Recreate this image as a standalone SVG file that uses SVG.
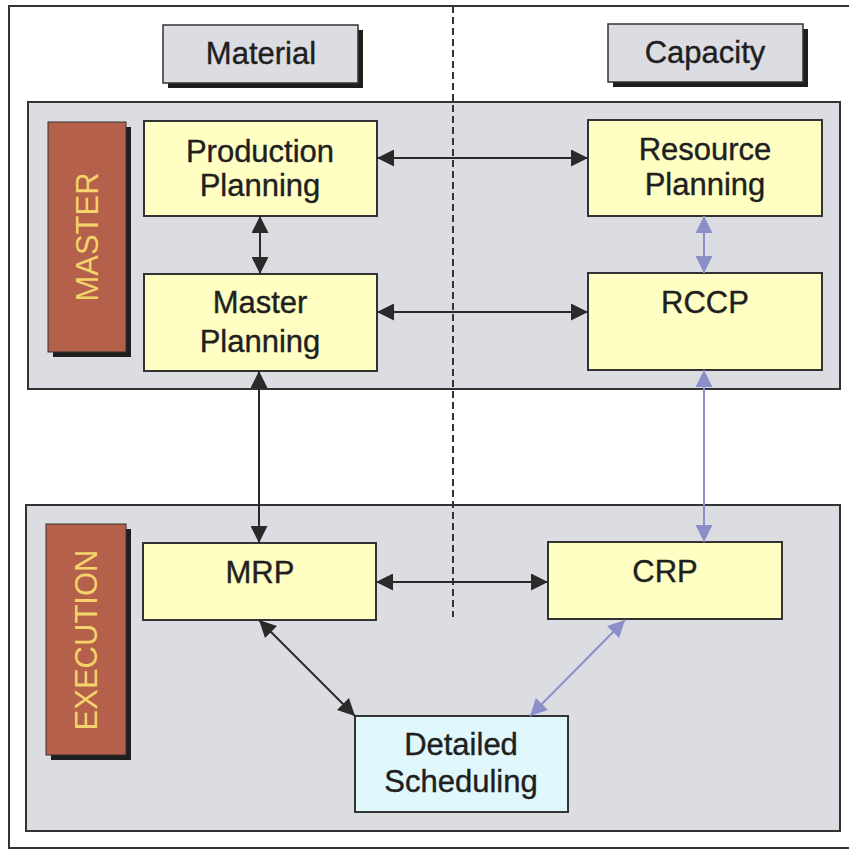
<svg xmlns="http://www.w3.org/2000/svg" width="849" height="851" viewBox="0 0 849 851">
  <style>
    .panel { fill: #dcdde3; stroke: #333; stroke-width: 2; }
    .shadow { fill: #1e1e1e; }
    .head { fill: #dcdde2; stroke: #333; stroke-width: 1.5; }
    .tag { fill: #b5604b; stroke: #333; stroke-width: 1; }
    .node { fill: #ffffc4; stroke: #333; stroke-width: 2; }
    .sched { fill: #e0f7fb; stroke: #333; stroke-width: 2; }
    .t { font-family: "Liberation Sans", Arial, sans-serif; font-size: 31px; fill: #1f1f1f; stroke: #1f1f1f; stroke-width: 0.4; text-anchor: middle; }
    .tagt { font-family: "Liberation Sans", Arial, sans-serif; font-size: 31px; fill: #f3d36a; text-anchor: middle; }
    .dark { stroke: #2a2a2a; stroke-width: 2; fill: none; marker-start: url(#ah); marker-end: url(#ah); }
    .blue { stroke: #8a8fc8; stroke-width: 2; fill: none; marker-start: url(#ab); marker-end: url(#ab); }
  </style>
  <defs>
    <marker id="ah" viewBox="0 0 10 10" refX="10" refY="5" markerUnits="userSpaceOnUse" markerWidth="20" markerHeight="17" orient="auto-start-reverse">
      <path d="M0,0 L10,5 L0,10 z" fill="#2a2a2a"/>
    </marker>
    <marker id="ab" viewBox="0 0 10 10" refX="10" refY="5" markerUnits="userSpaceOnUse" markerWidth="20" markerHeight="17" orient="auto-start-reverse">
      <path d="M0,0 L10,5 L0,10 z" fill="#8a8fc8"/>
    </marker>
  </defs>

  <!-- page frame -->
  <rect x="0" y="0" width="849" height="851" fill="#ffffff"/>
  <rect x="9" y="6" width="850" height="842" fill="none" stroke="#333" stroke-width="2"/>

  <!-- column headers -->
  <g id="material">
    <rect class="shadow" x="168" y="30" width="195" height="58"/>
    <rect class="head" x="163" y="25" width="195" height="58"/>
    <text class="t" x="261" y="64">Material</text>
  </g>
  <g id="capacity">
    <rect class="shadow" x="613" y="29" width="195" height="58"/>
    <rect class="head" x="608" y="24" width="195" height="58"/>
    <text class="t" x="705" y="63">Capacity</text>
  </g>

  <!-- level panels -->
  <g id="master-panel">
    <rect class="panel" x="28" y="102" width="812" height="287"/>
  </g>
  <g id="execution-panel">
    <rect class="panel" x="26" y="505" width="814" height="326"/>
  </g>

  <!-- divider between material and capacity sides -->
  <line x1="453" y1="6" x2="453" y2="617" stroke="#333" stroke-width="2" stroke-dasharray="7,4"/>

  <!-- level tags -->
  <g id="master-tag">
    <rect class="shadow" x="53" y="127" width="78" height="230"/>
    <rect class="tag" x="48" y="122" width="78" height="230"/>
    <text class="tagt" transform="translate(98,237) rotate(-90)">MASTER</text>
  </g>
  <g id="execution-tag">
    <rect class="shadow" x="51" y="529" width="80" height="231"/>
    <rect class="tag" x="46" y="524" width="80" height="231"/>
    <text class="tagt" transform="translate(97,640) rotate(-90)">EXECUTION</text>
  </g>

  <!-- nodes -->
  <g id="production-planning">
    <rect class="node" x="144" y="121" width="233" height="95"/>
    <text class="t" x="260" y="162">Production</text>
    <text class="t" x="260" y="196">Planning</text>
  </g>
  <g id="resource-planning">
    <rect class="node" x="588" y="120" width="234" height="96"/>
    <text class="t" x="705" y="160">Resource</text>
    <text class="t" x="705" y="195">Planning</text>
  </g>
  <g id="master-planning">
    <rect class="node" x="144" y="274" width="233" height="97"/>
    <text class="t" x="260" y="313">Master</text>
    <text class="t" x="260" y="352">Planning</text>
  </g>
  <g id="rccp">
    <rect class="node" x="588" y="273" width="234" height="97"/>
    <text class="t" x="705" y="313">RCCP</text>
  </g>
  <g id="mrp">
    <rect class="node" x="143" y="543" width="233" height="77"/>
    <text class="t" x="260" y="583">MRP</text>
  </g>
  <g id="crp">
    <rect class="node" x="548" y="542" width="234" height="77"/>
    <text class="t" x="665" y="582">CRP</text>
  </g>
  <g id="detailed-scheduling">
    <rect class="sched" x="355" y="716" width="213" height="96"/>
    <text class="t" x="461" y="755">Detailed</text>
    <text class="t" x="461" y="792">Scheduling</text>
  </g>

  <!-- connectors -->
  <g id="connectors">
    <line class="dark" x1="377" y1="158" x2="588" y2="158"/>
    <line class="dark" x1="260" y1="216" x2="260" y2="274"/>
    <line class="dark" x1="377" y1="312" x2="588" y2="312"/>
    <line class="dark" x1="259" y1="371" x2="259" y2="543"/>
    <line class="dark" x1="376" y1="582" x2="548" y2="582"/>
    <line class="dark" x1="259" y1="620" x2="355" y2="716"/>
    <line class="blue" x1="704" y1="216" x2="704" y2="273"/>
    <line class="blue" x1="704" y1="370" x2="704" y2="542" stroke-width="1.5"/>
    <line class="blue" x1="625" y1="620" x2="530" y2="716"/>
  </g>
</svg>
